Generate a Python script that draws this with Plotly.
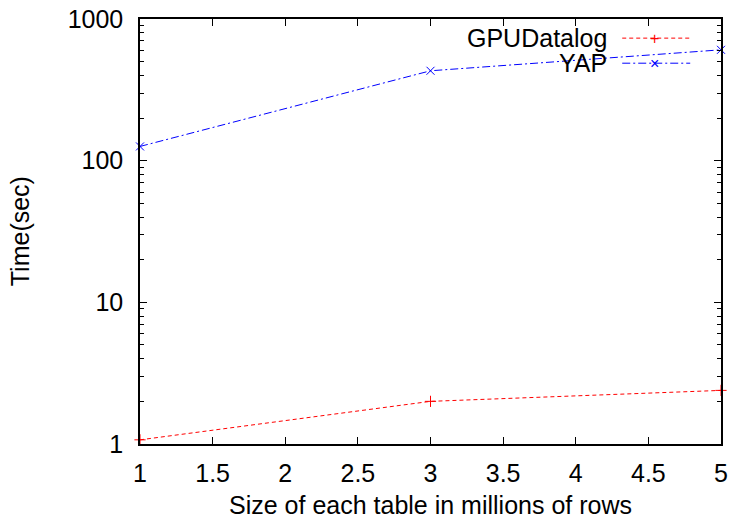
import plotly.graph_objects as go

sizes = [1, 3, 5]
gpudatalog = [1.07, 2.0, 2.39]
yap = [126, 431, 606]
x_ticks = [1, 1.5, 2, 2.5, 3, 3.5, 4, 4.5, 5]
x_ticklabels = ["1", "1.5", "2", "2.5", "3", "3.5", "4", "4.5", "5"]
y_ticks = [1, 10, 100, 1000]
y_ticklabels = ["1", "10", "100", "1000"]
series_names = ["GPUDatalog", "YAP"]

FONT = "Liberation Sans, Arial, sans-serif"
FS = 25
RED = "#ff0000"
BLUE = "#0000ff"

fig = go.Figure()
fig.add_trace(go.Scatter(
    x=sizes, y=gpudatalog, mode="lines+markers", name=series_names[0],
    line=dict(color=RED, width=1, dash="4px,3px"),
    marker=dict(symbol="cross-thin", size=8, line=dict(color=RED, width=1)),
    cliponaxis=False, showlegend=False))
fig.add_trace(go.Scatter(
    x=sizes, y=yap, mode="lines+markers", name=series_names[1],
    line=dict(color=BLUE, width=1, dash="8px,3px,2px,3px"),
    marker=dict(symbol="x-thin", size=8, line=dict(color=BLUE, width=1)),
    cliponaxis=False, showlegend=False))

# gnuplot-style legend: text on the left, sample on the right
legend_rows = [(0.955, RED, "4px,3px", "+", series_names[0]),
               (0.896, BLUE, "8px,3px,2px,3px", "×", series_names[1])]
for ypos, col, dash, sym, name in legend_rows:
    fig.add_shape(type="line", xref="paper", yref="paper",
                  x0=0.830, x1=0.947, y0=ypos, y1=ypos,
                  line=dict(color=col, width=1, dash=dash))
    fig.add_annotation(xref="paper", yref="paper", x=0.886, y=ypos,
                       text=sym, showarrow=False, xanchor="center", yanchor="middle",
                       borderpad=0,
                       font=dict(family=FONT, size=16, color=col))
    fig.add_annotation(xref="paper", yref="paper", x=0.805, y=ypos,
                       text=name, showarrow=False, xanchor="right", yanchor="middle",
                       borderpad=0,
                       font=dict(family=FONT, size=FS, color="black"))

# y-axis title placed like gnuplot's
fig.add_annotation(xref="paper", yref="paper", x=-0.207, y=0.5,
                   text="Time(sec)", textangle=-90, showarrow=False,
                   xanchor="center", yanchor="middle",
                   font=dict(family=FONT, size=FS, color="black"))

fig.update_layout(
    width=733, height=519,
    margin=dict(l=140, r=12, t=19, b=75, autoexpand=False),
    paper_bgcolor="white", plot_bgcolor="white",
    font=dict(family=FONT, size=FS, color="black"),
    showlegend=False,
)
fig.update_xaxes(
    range=[1, 5], tickvals=x_ticks, ticktext=x_ticklabels,
    showgrid=False, zeroline=False, automargin=False,
    showline=True, linecolor="black", linewidth=1.5, mirror="ticks",
    ticks="inside", ticklen=7, tickwidth=1, tickcolor="black",
    ticklabelstandoff=6,
    title=dict(text="Size of each table in millions of rows", standoff=12,
               font=dict(size=FS)),
)
fig.update_yaxes(
    type="log", range=[0, 3], tickvals=y_ticks, ticktext=y_ticklabels,
    showgrid=False, zeroline=False, automargin=False,
    showline=True, linecolor="black", linewidth=1.5, mirror="ticks",
    ticks="inside", ticklen=7, tickwidth=1, tickcolor="black",
    minor=dict(ticks="inside", ticklen=4, tickwidth=1, tickcolor="black",
               dtick="D1", showgrid=False),
    ticklabelstandoff=10,
)

fig.write_html("out.html", config={"displayModeBar": False},
               post_script="document.body.style.margin='0';document.body.style.overflow='hidden';")
